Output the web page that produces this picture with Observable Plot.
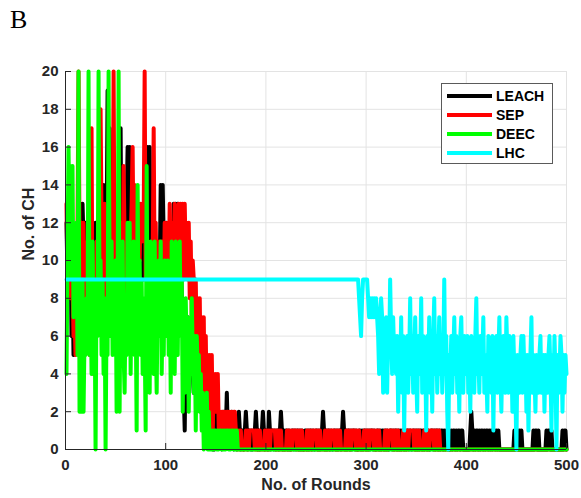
<!DOCTYPE html>
<html>
<head>
<meta charset="utf-8">
<script src="https://cdn.jsdelivr.net/npm/d3@7"></script>
<script src="https://cdn.jsdelivr.net/npm/@observablehq/plot@0.6"></script>
<style>
  html, body { margin: 0; padding: 0; background: #fff; }
  #chart { position: relative; width: 581px; height: 498px; }
  #panel { position: absolute; left: 10px; top: 7px; font-family: "Liberation Serif", "Times New Roman", serif; font-size: 26px; color: #000; line-height: 1; }
  #legend { position: absolute; left: 441px; top: 83px; width: 112px; height: 81px; box-sizing: border-box;
            border: 1px solid #5a5a5a; background: #fff; padding-top: 2px;
            font-family: "Liberation Sans", Arial, sans-serif; font-weight: bold; font-size: 14px; color: #000; }
  #legend .row { display: flex; align-items: center; height: 19px; }
  #legend .swatch { width: 45px; height: 4px; margin-left: 5px; margin-right: 4px; }
</style>
</head>
<body>
<div id="chart"></div>
<script>
// Number of cluster heads per round for each protocol (rounds 1..500)
const seriesNames = ["LEACH", "SEP", "DEEC", "LHC"];
const seriesColors = ["#000000", "#ff0000", "#00ff00", "#00ffff"];

const leach = [
  12, 9, 13, 8, 11, 6, 9, 5, 7, 6,
  10, 7, 12, 9, 13, 10, 13, 11, 8, 12,
  9, 11, 7, 12, 10, 8, 11, 9, 11, 12,
  8, 11, 10, 13, 9, 12, 11, 14, 13, 7,
  11, 19, 14, 17, 12, 10, 13, 11, 9, 12,
  10, 13, 11, 14, 17, 9, 11, 8, 12, 10,
  13, 16, 11, 16, 9, 12, 7, 11, 10, 12,
  9, 11, 13, 8, 12, 10, 11, 9, 12, 10,
  11, 16, 13, 16, 10, 8, 7, 5, 9, 6,
  10, 8, 11, 9, 14, 12, 14, 11, 9, 10,
  12, 9, 11, 10, 8, 11, 9, 13, 10, 13,
  12, 13, 10, 9, 11, 8, 7, 3, 1, 6,
  5, 7, 4, 6, 5, 6, 4, 3, 5, 6,
  4, 6, 3, 5, 2, 4, 3, 5, 4, 2,
  5, 3, 2, 1, 2, 1, 0, 1, 0, 1,
  2, 1, 1, 2, 1, 0, 1, 2, 1, 1,
  3, 1, 2, 1, 1, 2, 1, 0, 1, 1,
  0, 1, 2, 1, 0, 1, 1, 0, 1, 2,
  1, 0, 1, 1, 0, 1, 0, 1, 1, 2,
  1, 0, 1, 0, 1, 1, 2, 1, 0, 1,
  1, 0, 2, 1, 0, 1, 1, 0, 1, 0,
  1, 1, 0, 1, 2, 1, 0, 1, 0, 1,
  1, 0, 1, 0, 0, 1, 1, 0, 1, 0,
  1, 1, 0, 1, 0, 1, 0, 0, 1, 1,
  0, 1, 0, 1, 1, 0, 1, 0, 0, 1,
  1, 0, 1, 0, 1, 1, 2, 1, 0, 1,
  0, 1, 1, 0, 1, 0, 0, 1, 1, 0,
  1, 0, 1, 1, 0, 1, 2, 1, 0, 1,
  0, 1, 1, 0, 1, 0, 1, 1, 0, 1,
  0, 0, 1, 1, 0, 1, 0, 1, 1, 0,
  1, 0, 1, 0, 1, 1, 0, 1, 0, 0,
  1, 1, 0, 1, 0, 1, 1, 0, 1, 0,
  1, 0, 0, 1, 1, 0, 1, 0, 1, 1,
  0, 1, 0, 1, 0, 1, 1, 0, 1, 0,
  1, 1, 0, 1, 0, 0, 1, 1, 0, 1,
  0, 1, 0, 1, 1, 0, 1, 0, 1, 1,
  0, 1, 0, 0, 1, 1, 0, 1, 0, 1,
  1, 0, 1, 0, 1, 1, 0, 1, 0, 1,
  1, 0, 0, 0, 1, 0, 1, 1, 0, 1,
  0, 1, 1, 0, 1, 1, 0, 0, 0, 0,
  0, 0, 0, 1, 2, 1, 0, 1, 0, 1,
  1, 0, 1, 0, 1, 1, 0, 1, 0, 1,
  1, 0, 1, 0, 1, 0, 1, 1, 0, 1,
  0, 1, 0, 0, 0, 0, 0, 0, 0, 0,
  0, 0, 0, 0, 0, 0, 0, 1, 0, 1,
  1, 0, 1, 0, 1, 0, 0, 0, 0, 0,
  0, 0, 0, 0, 0, 0, 1, 0, 1, 1,
  0, 1, 0, 0, 0, 0, 0, 0, 0, 1,
  0, 1, 1, 0, 1, 0, 0, 0, 0, 0,
  0, 0, 0, 0, 0, 1, 0, 1, 1, 0
];

const sep = [
  13, 9, 12, 10, 8, 11, 9, 6, 7, 5,
  9, 12, 20, 11, 7, 12, 9, 12, 8, 10,
  7, 11, 9, 5, 13, 17, 6, 4, 9, 7,
  11, 8, 10, 7, 18, 12, 9, 11, 13, 8,
  10, 7, 12, 9, 11, 13, 10, 20, 9, 12,
  8, 11, 13, 10, 7, 12, 9, 15, 11, 8,
  6, 10, 12, 9, 11, 13, 16, 10, 14, 9,
  11, 8, 12, 10, 13, 11, 13, 12, 20, 9,
  11, 7, 9, 5, 8, 6, 10, 17, 9, 12,
  8, 11, 10, 11, 7, 11, 9, 8, 12, 10,
  11, 12, 9, 13, 10, 12, 8, 11, 13, 9,
  12, 10, 13, 8, 13, 11, 13, 9, 13, 10,
  12, 9, 12, 8, 11, 7, 10, 9, 6, 9,
  5, 8, 4, 8, 3, 7, 2, 7, 1, 6,
  2, 5, 1, 5, 2, 5, 1, 4, 2, 4,
  2, 4, 1, 2, 1, 2, 2, 1, 2, 1,
  2, 2, 1, 2, 1, 2, 1, 2, 2, 1,
  1, 0, 1, 0, 1, 0, 0, 0, 0, 1,
  0, 1, 0, 1, 1, 1, 1, 1, 0, 1,
  0, 1, 0, 1, 0, 0, 0, 0, 1, 0,
  1, 0, 1, 0, 1, 1, 1, 1, 1, 0,
  1, 0, 1, 0, 1, 0, 0, 0, 0, 0,
  1, 0, 1, 0, 1, 0, 1, 1, 1, 1,
  0, 1, 0, 1, 0, 1, 0, 0, 0, 0,
  1, 0, 1, 0, 1, 0, 1, 1, 1, 1,
  0, 1, 0, 1, 0, 0, 0, 0, 1, 0,
  1, 0, 1, 0, 1, 1, 1, 1, 0, 1,
  0, 1, 0, 1, 0, 0, 0, 0, 0, 1,
  0, 1, 0, 1, 0, 1, 1, 1, 1, 0,
  1, 0, 1, 0, 0, 0, 0, 1, 0, 1,
  0, 1, 0, 1, 1, 1, 1, 0, 1, 0,
  1, 0, 1, 0, 0, 0, 0, 0, 1, 0,
  1, 0, 1, 1, 1, 1, 0, 1, 0, 1,
  0, 1, 0, 0, 0, 0, 1, 0, 1, 0,
  1, 0, 1, 1, 1, 1, 1, 0, 1, 0,
  1, 0, 1, 0, 0, 0, 0, 1, 0, 1,
  0, 1, 0, 1, 1, 1, 1, 0, 1, 0,
  1, 0, 1, 0, 0, 0, 0, 0, 0, 0,
  0, 0, 0, 0, 0, 0, 0, 0, 0, 0, 0, 0, 0, 0, 0, 0, 0, 0, 0, 0,
  0, 0, 0, 0, 0, 0, 0, 0, 0, 0, 0, 0, 0, 0, 0, 0, 0, 0, 0, 0,
  0, 0, 0, 0, 0, 0, 0, 0, 0, 0, 0, 0, 0, 0, 0, 0, 0, 0, 0, 0,
  0, 0, 0, 0, 0, 0, 0, 0, 0, 0, 0, 0, 0, 0, 0, 0, 0, 0, 0, 0,
  0, 0, 0, 0, 0, 0, 0, 0, 0, 0, 0, 0, 0, 0, 0, 0, 0, 0, 0, 0,
  0, 0, 0, 0, 0, 0, 0, 0, 0, 0, 0, 0, 0, 0, 0, 0, 0, 0, 0, 0
];

const deec = [
  4, 10, 16, 12, 15, 9, 15, 7, 11, 8,
  12, 5, 20, 2, 8, 2, 9, 2, 6, 5,
  8, 6, 20, 5, 9, 4, 11, 6, 8, 0,
  9, 6, 20, 7, 10, 5, 9, 4, 8, 0,
  7, 5, 20, 9, 6, 11, 5, 9, 6, 10,
  2, 8, 20, 2, 9, 6, 11, 5, 3, 8,
  5, 12, 7, 12, 4, 9, 6, 11, 5, 8,
  1, 14, 6, 10, 5, 9, 4, 8, 6, 1,
  15, 5, 10, 3, 11, 7, 9, 4, 11, 6,
  3, 8, 10, 6, 11, 4, 8, 5, 10, 6,
  8, 10, 5, 9, 3, 11, 6, 8, 4, 11,
  7, 5, 10, 11, 6, 9, 2, 7, 3, 8,
  5, 7, 2, 6, 4, 8, 5, 3, 6, 1,
  6, 4, 5, 2, 4, 1, 3, 0, 2, 1,
  3, 0, 2, 0, 1, 0, 1, 0, 1, 1,
  0, 1, 0, 1, 1, 0, 1, 0, 1, 0,
  1, 1, 0, 1, 0, 1, 1, 0, 1, 0,
  1, 0, 0, 0, 0, 0, 0, 0, 0, 0,
  0, 0, 0, 0, 0, 0, 0, 0, 0, 0, 0, 0, 0, 0, 0, 0, 0, 0, 0, 0,
  0, 0, 0, 0, 0, 0, 0, 0, 0, 0, 0, 0, 0, 0, 0, 0, 0, 0, 0, 0,
  0, 0, 0, 0, 0, 0, 0, 0, 0, 0, 0, 0, 0, 0, 0, 0, 0, 0, 0, 0,
  0, 0, 0, 0, 0, 0, 0, 0, 0, 0, 0, 0, 0, 0, 0, 0, 0, 0, 0, 0,
  0, 0, 0, 0, 0, 0, 0, 0, 0, 0, 0, 0, 0, 0, 0, 0, 0, 0, 0, 0,
  0, 0, 0, 0, 0, 0, 0, 0, 0, 0, 0, 0, 0, 0, 0, 0, 0, 0, 0, 0,
  0, 0, 0, 0, 0, 0, 0, 0, 0, 0, 0, 0, 0, 0, 0, 0, 0, 0, 0, 0,
  0, 0, 0, 0, 0, 0, 0, 0, 0, 0, 0, 0, 0, 0, 0, 0, 0, 0, 0, 0,
  0, 0, 0, 0, 0, 0, 0, 0, 0, 0, 0, 0, 0, 0, 0, 0, 0, 0, 0, 0,
  0, 0, 0, 0, 0, 0, 0, 0, 0, 0, 0, 0, 0, 0, 0, 0, 0, 0, 0, 0,
  0, 0, 0, 0, 0, 0, 0, 0, 0, 0, 0, 0, 0, 0, 0, 0, 0, 0, 0, 0,
  0, 0, 0, 0, 0, 0, 0, 0, 0, 0, 0, 0, 0, 0, 0, 0, 0, 0, 0, 0,
  0, 0, 0, 0, 0, 0, 0, 0, 0, 0, 0, 0, 0, 0, 0, 0, 0, 0, 0, 0,
  0, 0, 0, 0, 0, 0, 0, 0, 0, 0, 0, 0, 0, 0, 0, 0, 0, 0, 0, 0,
  0, 0, 0, 0, 0, 0, 0, 0, 0, 0, 0, 0, 0, 0, 0, 0, 0, 0, 0, 0,
  0, 0, 0, 0, 0, 0, 0, 0, 0, 0, 0, 0, 0, 0, 0, 0, 0, 0, 0, 0
];

const lhc = [
  9, 9, 9, 9, 9, 9, 9, 9, 9, 9, 9, 9, 9, 9, 9, 9, 9, 9, 9, 9,
  9, 9, 9, 9, 9, 9, 9, 9, 9, 9, 9, 9, 9, 9, 9, 9, 9, 9, 9, 9,
  9, 9, 9, 9, 9, 9, 9, 9, 9, 9, 9, 9, 9, 9, 9, 9, 9, 9, 9, 9,
  9, 9, 9, 9, 9, 9, 9, 9, 9, 9, 9, 9, 9, 9, 9, 9, 9, 9, 9, 9,
  9, 9, 9, 9, 9, 9, 9, 9, 9, 9, 9, 9, 9, 9, 9, 9, 9, 9, 9, 9,
  9, 9, 9, 9, 9, 9, 9, 9, 9, 9, 9, 9, 9, 9, 9, 9, 9, 9, 9, 9,
  9, 9, 9, 9, 9, 9, 9, 9, 9, 9, 9, 9, 9, 9, 9, 9, 9, 9, 9, 9,
  9, 9, 9, 9, 9, 9, 9, 9, 9, 9, 9, 9, 9, 9, 9, 9, 9, 9, 9, 9,
  9, 9, 9, 9, 9, 9, 9, 9, 9, 9, 9, 9, 9, 9, 9, 9, 9, 9, 9, 9,
  9, 9, 9, 9, 9, 9, 9, 9, 9, 9, 9, 9, 9, 9, 9, 9, 9, 9, 9, 9,
  9, 9, 9, 9, 9, 9, 9, 9, 9, 9, 9, 9, 9, 9, 9, 9, 9, 9, 9, 9,
  9, 9, 9, 9, 9, 9, 9, 9, 9, 9, 9, 9, 9, 9, 9, 9, 9, 9, 9, 9,
  9, 9, 9, 9, 9, 9, 9, 9, 9, 9, 9, 9, 9, 9, 9, 9, 9, 9, 9, 9,
  9, 9, 9, 9, 9, 9, 9, 9, 9, 9, 9, 9, 9, 9, 9, 9, 9, 9, 9, 9,
  9, 9, 9, 9, 9, 9, 9, 9, 9, 9,
  9, 9, 8, 7, 6, 8, 9, 9, 9, 9,
  9, 8, 7, 8, 7, 8, 7, 8, 7, 8,
  7, 6, 4, 7, 8, 7, 3, 6, 4, 7,
  3, 6, 5, 9, 6, 4, 7, 5, 6, 4,
  6, 2, 5, 4, 7, 3, 6, 1, 5, 4,
  6, 3, 5, 8, 4, 6, 3, 5, 7, 4,
  2, 6, 4, 5, 8, 3, 6, 4, 5, 1,
  6, 4, 7, 3, 5, 2, 6, 8, 4, 6,
  3, 5, 7, 4, 6, 3, 5, 9, 4, 6,
  2, 0, 5, 4, 6, 3, 5, 7, 4, 6,
  3, 5, 2, 6, 7, 4, 3, 6, 5, 4,
  6, 3, 5, 2, 6, 4, 5, 3, 6, 8,
  4, 5, 3, 6, 4, 5, 7, 3, 5, 4,
  2, 6, 4, 5, 3, 6, 1, 5, 4, 6,
  3, 5, 7, 4, 2, 5, 6, 4, 3, 7,
  5, 3, 6, 4, 5, 2, 6, 4, 3, 0,
  5, 4, 3, 5, 6, 3, 6, 4, 5, 2,
  5, 1, 4, 5, 7, 3, 5, 4, 2, 5,
  4, 3, 5, 6, 3, 4, 5, 2, 5, 4,
  3, 5, 6, 4, 1, 5, 3, 6, 4, 0,
  5, 3, 4, 6, 5, 2, 5, 3, 5, 4
];

const xTicks = [0, 100, 200, 300, 400, 500];
const yTicks = [0, 2, 4, 6, 8, 10, 12, 14, 16, 18, 20];
const xLabel = "No. of Rounds";
const yLabel = "No. of CH";
const panelLabel = "B";

const seriesValues = [leach, sep, deec, lhc];
const toRows = (values) => values.map((v, i) => ({round: i + 1, count: v}));

const axisColor = "#262626";
const gridColor = "#e3e3e3";
const W = 581, H = 498;
const M = {top: 71, right: 15, bottom: 49, left: 65};
const innerW = W - M.left - M.right;
const innerH = H - M.top - M.bottom;

// one thick polyline per protocol, drawn in legend order so LHC ends on top
const lineMarks = seriesValues.map((values, k) =>
  Plot.line(toRows(values), {
    x: "round", y: "count",
    stroke: seriesColors[k], strokeWidth: 4,
    strokeLinejoin: "round", strokeLinecap: "round"
  })
);

const chart = Plot.plot({
  width: W, height: H,
  marginTop: M.top, marginRight: M.right, marginBottom: M.bottom, marginLeft: M.left,
  style: {fontFamily: "'Liberation Sans', Arial, sans-serif", fontSize: "15px", fontWeight: "bold", color: axisColor, background: "#fff"},
  x: {domain: [0, 500]},
  y: {domain: [0, 20]},
  marks: [
    Plot.gridX(xTicks, {stroke: gridColor, strokeOpacity: 1}),
    Plot.gridY(yTicks, {stroke: gridColor, strokeOpacity: 1}),
    ...lineMarks,
    Plot.ruleX([0], {stroke: axisColor}),
    Plot.ruleY([0], {stroke: axisColor}),
    // inward tick marks
    Plot.tickX(xTicks, {x: d => d, stroke: axisColor, insetTop: innerH - 6}),
    Plot.tickY(yTicks, {y: d => d, stroke: axisColor, insetRight: innerW - 6}),
    Plot.axisX(xTicks, {tickSize: 0, tickPadding: 10, label: null, fill: axisColor, fontSize: 15, fontWeight: "bold"}),
    Plot.axisY(yTicks, {tickSize: 0, tickPadding: 7, label: null, fill: axisColor, fontSize: 15, fontWeight: "bold"}),
    Plot.text([xLabel], {frameAnchor: "bottom", dy: 40, fill: axisColor, fontSize: 16, fontWeight: "bold"}),
    Plot.text([yLabel], {frameAnchor: "left", dx: -37, rotate: -90, fill: axisColor, fontSize: 16, fontWeight: "bold"})
  ]
});

const container = document.getElementById("chart");
container.appendChild(chart);

const panel = document.createElement("div");
panel.id = "panel";
panel.textContent = panelLabel;
container.appendChild(panel);

const legend = document.createElement("div");
legend.id = "legend";
seriesNames.forEach((name, k) => {
  const row = document.createElement("div");
  row.className = "row";
  const sw = document.createElement("span");
  sw.className = "swatch";
  sw.style.background = seriesColors[k];
  const label = document.createElement("span");
  label.textContent = name;
  row.appendChild(sw);
  row.appendChild(label);
  legend.appendChild(row);
});
container.appendChild(legend);
</script>
</body>
</html>
